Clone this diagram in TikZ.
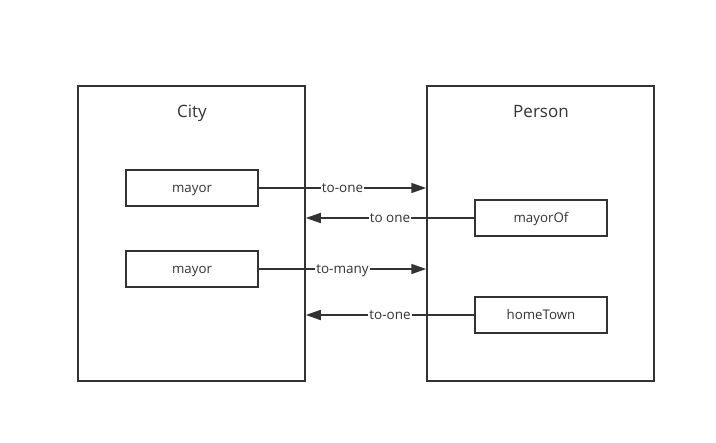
\documentclass[tikz,border=0pt]{standalone}
\usepackage{fontspec}
\setmainfont{Open Sans}
\usetikzlibrary{positioning, arrows.meta}

\begin{document}
\begin{tikzpicture}[
    x=1pt, y=-1pt,
    every node/.style={text=black!80},
    entity/.style={draw=black!80, line width=1.5pt, rectangle, minimum width=227pt, minimum height=295pt},
    title/.style={anchor=base, font=\fontsize{17}{19}\selectfont},
    field/.style={draw=black!80, line width=1.5pt, rectangle, minimum width=132pt, minimum height=36pt,
        text height=11.8pt, text depth=3pt, font=\fontsize{13.3}{15}\selectfont},
    rel/.style={draw=black!80, line width=1.5pt, -{Triangle[length=15pt, width=10pt]}},
    tag/.style={fill=white, inner sep=1pt, text height=12.4pt, text depth=2.8pt, font=\fontsize{13.5}{15}\selectfont}
]
\useasboundingbox (0,0) rectangle (716,443);

% entities
\node[entity] (city) at (191.5,233.5) {};
\node[entity] (person) at (540.5,233.5) {};
\node[title] (citytitle) at (192,118) {City};
\node[title] (persontitle) at (541,118) {Person};

% fields
\node[field] (mayorA) at (192,188) {mayor};
\node[field] (mayorB) at (192,269) {mayor};
\node[field] (mayorof) at (541,218) {mayorOf};
\node[field] (hometown) at (541,315) {homeTown};

% relations
\draw[rel] (mayorA.east) -- (mayorA.east -| person.west) node[tag, midway] {to-one};
\draw[rel] (mayorof.west) -- (mayorof.west -| city.east) node[tag, midway] {to one};
\draw[rel] (mayorB.east) -- (mayorB.east -| person.west) node[tag, midway] {to-many};
\draw[rel] (hometown.west) -- (hometown.west -| city.east) node[tag, midway] {to-one};
\end{tikzpicture}
\end{document}
